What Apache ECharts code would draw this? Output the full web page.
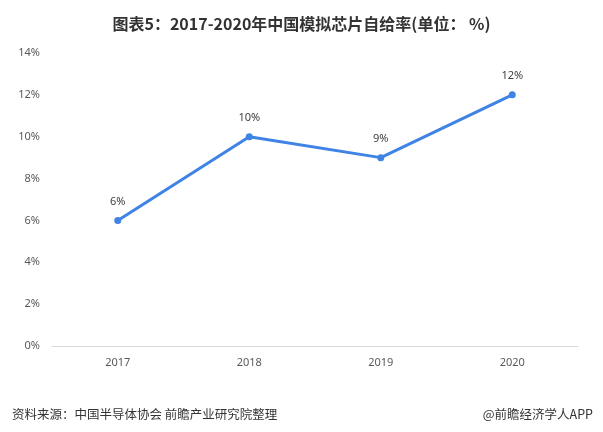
<!DOCTYPE html>
<html><head><meta charset="utf-8">
<script src="https://cdn.jsdelivr.net/npm/echarts@6/dist/echarts.min.js"></script>
<style>html,body{margin:0;padding:0;background:#fff;}#c{width:603px;height:432px;}</style>
</head><body><div id="c"></div>
<script>
const categories = ['2017','2018','2019','2020'];
const selfSufficiency = [6, 10, 9, 12];
const yTicks = [0, 2, 4, 6, 8, 10, 12, 14];
const titleText = '图表5：2017-2020年中国模拟芯片自给率(单位： %)';
const sourceText = '资料来源：中国半导体协会 前瞻产业研究院整理';
const brandText = '@前瞻经济学人APP';

const chart = echarts.init(document.getElementById('c'));
chart.setOption({
  backgroundColor: '#fff',
  title: [
    {text: titleText, left: 'center', top: 11,
     textStyle: {fontSize: 16, fontWeight: 'bold', color: '#333', fontFamily: 'Noto Sans CJK SC'}},
    {text: sourceText, left: 7, top: 403,
     textStyle: {fontSize: 12.5, fontWeight: 'normal', color: '#333', fontFamily: 'Noto Sans CJK SC'}},
    {text: brandText, right: 5, top: 403,
     textStyle: {fontSize: 12.5, fontWeight: 'normal', color: '#333', fontFamily: 'Noto Sans CJK SC'}}
  ],
  grid: {left: 52, right: 25, top: 53, bottom: 86},
  xAxis: {
    type: 'category', data: categories, boundaryGap: true,
    axisLine: {lineStyle: {color: '#d9d9d9'}},
    axisTick: {show: false},
    axisLabel: {color: '#595959', fontSize: 11, margin: 11, fontFamily: 'Noto Sans'}
  },
  yAxis: {
    type: 'value', min: yTicks[0], max: yTicks[yTicks.length-1], interval: 2,
    axisLine: {show: false}, axisTick: {show: false},
    splitLine: {show: false},
    axisLabel: {color: '#595959', fontSize: 11, margin: 12, formatter: '{value}%', fontFamily: 'Noto Sans'}
  },
  series: [{
    type: 'line', data: selfSufficiency,
    symbol: 'circle', symbolSize: 7,
    lineStyle: {color: '#3f83e4', width: 3},
    itemStyle: {color: '#3f83e4'},
    label: {show: true, position: 'top', distance: 10, formatter: '{c}%', color: '#404040', fontSize: 11, fontFamily: 'Noto Sans'}
  }]
});
</script></body></html>
